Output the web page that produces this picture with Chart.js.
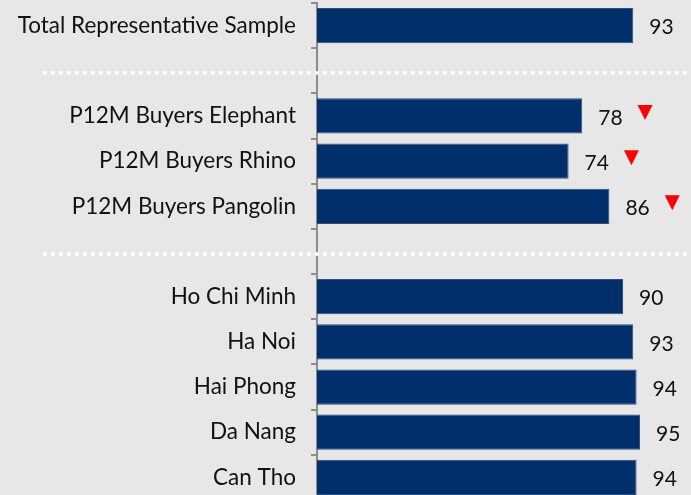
<!DOCTYPE html>
<html>
<head>
<meta charset="utf-8">
<script src="https://cdn.jsdelivr.net/npm/chart.js@4"></script>
<style>
  html, body { margin: 0; padding: 0; background: #e7e7e7; overflow: hidden; }
  #myChart { position: absolute; left: 0; top: 0; }
</style>
</head>
<body>
<canvas id="myChart" width="691" height="500"></canvas>
<script>
// rows, empty strings are the spacer rows
const labels = ['Total Representative Sample', '', 'P12M Buyers Elephant', 'P12M Buyers Rhino',
  'P12M Buyers Pangolin', '', 'Ho Chi Minh', 'Ha Noi', 'Hai Phong', 'Da Nang', 'Can Tho'];
const values = [93, null, 78, 74, 86, null, 90, 93, 94, 95, 94];
const downMarks = [false, false, true, true, true, false, false, false, false, false, false];
const separatorRows = [1, 5];

const FONT = 'Lato, "Open Sans", sans-serif';

const extras = {
  id: 'extras',
  afterDatasetsDraw(chart) {
    const ctx = chart.ctx;
    const meta = chart.getDatasetMeta(0);
    const yScale = chart.scales.y;
    ctx.save();
    // dotted white separators
    ctx.strokeStyle = '#ffffff';
    ctx.lineWidth = 3.5;
    ctx.setLineDash([4, 4]);
    separatorRows.forEach(i => {
      const y = Math.round(yScale.getPixelForValue(i)) + 2;
      ctx.beginPath();
      ctx.moveTo(43, y);
      ctx.lineTo(chart.width, y);
      ctx.stroke();
    });
    ctx.setLineDash([]);
    // value labels + red down markers
    ctx.font = '21px ' + FONT;
    ctx.fillStyle = '#111';
    ctx.textBaseline = 'middle';
    ctx.textAlign = 'left';
    meta.data.forEach((bar, i) => {
      if (values[i] == null) return;
      const tx = bar.x + 16;
      const ty = bar.y + 2;
      const txt = String(values[i]);
      ctx.fillText(txt, tx, ty);
      if (downMarks[i]) {
        const w = ctx.measureText(txt).width;
        const x0 = tx + w + 15;
        const y0 = bar.y - 11;
        ctx.fillStyle = '#ff0000';
        ctx.beginPath();
        ctx.moveTo(x0, y0);
        ctx.lineTo(x0 + 15, y0);
        ctx.lineTo(x0 + 7.5, y0 + 15);
        ctx.closePath();
        ctx.fill();
        ctx.fillStyle = '#111';
      }
    });
    ctx.restore();
  }
};

const data = {
  labels: labels,
  datasets: [{
    data: values,
    backgroundColor: '#002f6c',
    borderColor: '#2c4f80',
    borderWidth: 1,
    barPercentage: 0.78,
    categoryPercentage: 1
  }]
};

const config = {
  type: 'bar',
  data: data,
  options: {
    indexAxis: 'y',
    responsive: false,
    animation: false,
    layout: { padding: { top: 3, right: 0, bottom: 0, left: 0 } },
    plugins: { legend: { display: false }, tooltip: { enabled: false } },
    scales: {
      x: { display: false, min: 0, max: 110 },
      y: {
        afterFit(scale) {
          scale.width = 317;
          scale.paddingTop = 0;
          scale.paddingBottom = 0;
        },
        grid: {
          offset: true,
          drawOnChartArea: false,
          color: '#8c8c8c',
          tickLength: 6,
          lineWidth: 2
        },
        border: { color: '#8c8c8c', width: 2 },
        ticks: {
          padding: 15,
          color: '#111',
          font: { family: FONT, size: 22.5 }
        }
      }
    }
  },
  plugins: [extras]
};

new Chart(document.getElementById('myChart'), config);
</script>
</body>
</html>
